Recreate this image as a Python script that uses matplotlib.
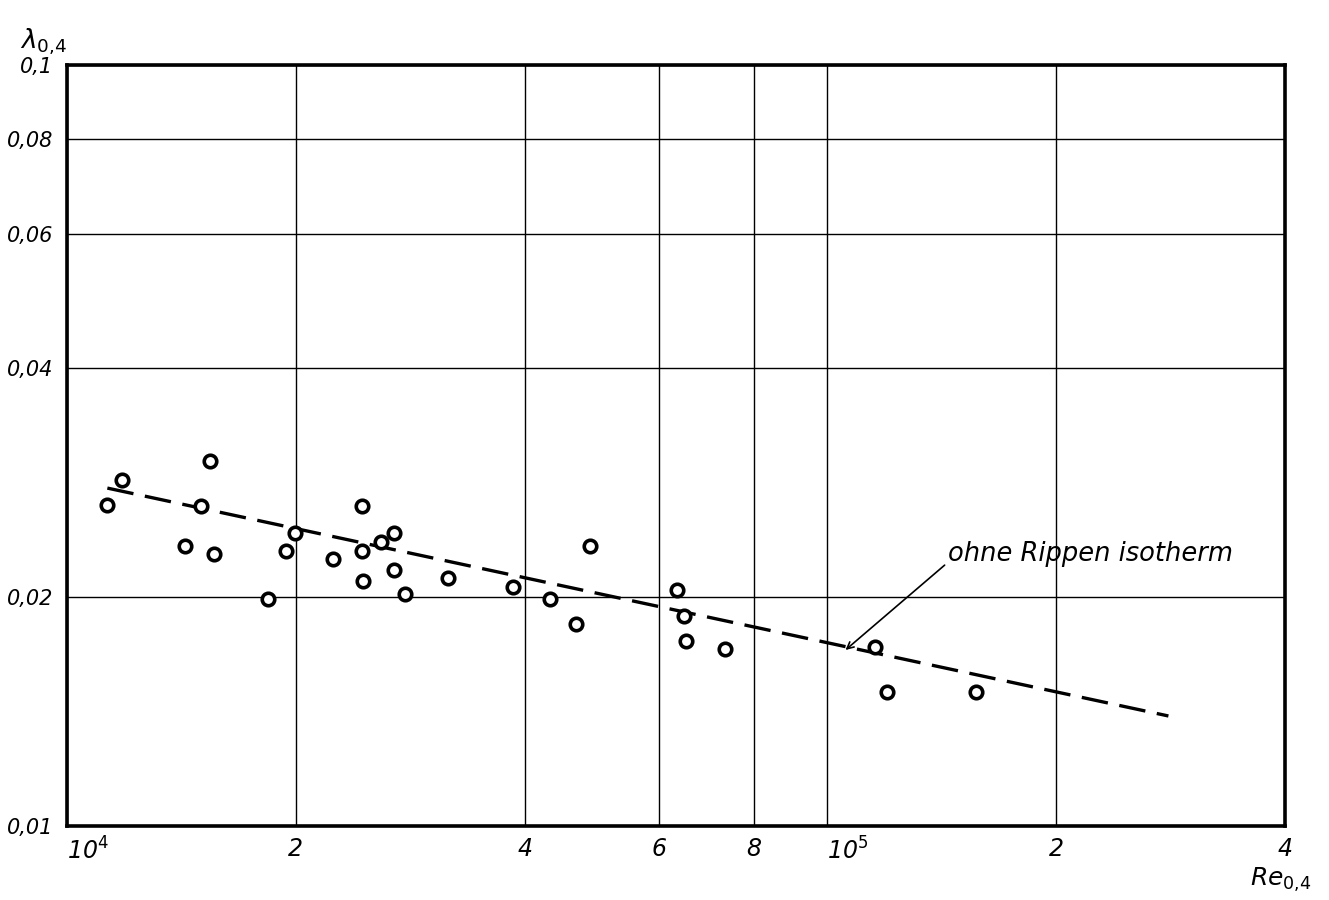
import matplotlib.pyplot as plt

# Messpunkte (Re_0,4 / lambda_0,4)
re_pts = [1.13e4, 1.18e4, 1.54e4, 1.50e4, 1.43e4, 1.56e4, 1.84e4, 1.94e4, 1.995e4,
          2.24e4, 2.44e4, 2.44e4, 2.45e4, 2.59e4, 2.69e4, 2.69e4, 2.78e4, 3.17e4,
          3.86e4, 4.32e4, 4.67e4, 4.87e4, 6.35e4, 6.48e4, 6.52e4, 7.34e4,
          1.155e5, 1.20e5, 1.57e5]
lam_pts = [0.0264, 0.0285, 0.0302, 0.0263, 0.0233, 0.0228, 0.0199, 0.0230, 0.0243,
           0.0224, 0.0263, 0.0230, 0.0210, 0.0236, 0.0243, 0.0217, 0.0202, 0.0212,
           0.0206, 0.0199, 0.0184, 0.0233, 0.0204, 0.0189, 0.0175, 0.0171,
           0.0172, 0.0150, 0.0150]

# Ausgleichsgerade "ohne Rippen isotherm"
re_line = [1.13e4, 2.81e5]
lam_line = [0.0278, 0.01395]

x_ticks = [1e4, 2e4, 4e4, 6e4, 8e4, 1e5, 2e5, 4e5]
x_labels = [r'10$^{\mathit{4}}$', '2', '4', '6', '8', r'10$^{\mathit{5}}$', '2', '4']
y_ticks = [0.01, 0.02, 0.04, 0.06, 0.08, 0.1]
y_labels = ['0,01', '0,02', '0,04', '0,06', '0,08', '0,1']

fig = plt.figure(figsize=(13.29, 9), dpi=100)
ax = fig.add_axes([67/1329, 74/900, 1218/1329, 761/900])

ax.set_xscale('log')
ax.set_yscale('log')
ax.set_xlim(1e4, 4e5)
ax.set_ylim(0.01, 0.1)

ax.plot(re_line, lam_line, color='black', lw=2.4, ls=(0, (8, 3.5)), dash_capstyle='butt')
ax.plot(re_pts, lam_pts, ls='none', marker='o', ms=9, mfc='white', mec='black', mew=2.6)

ax.annotate('', xy=(1.05e5, 0.01694), xytext=(1.436e5, 0.02214),
            arrowprops=dict(arrowstyle='->', color='black', lw=1.2, mutation_scale=12))
ax.text(1.44e5, 0.0228, 'ohne Rippen isotherm', fontsize=18.5, style='italic',
        ha='left', va='center')

ax.minorticks_off()
ax.set_xticks(x_ticks)
ax.set_xticklabels(x_labels, fontsize=17, style='italic')
ax.set_yticks(y_ticks)
ax.set_yticklabels(y_labels, fontsize=15, style='italic')
ax.tick_params(axis='both', length=0)
ax.tick_params(axis='x', pad=8)
ax.tick_params(axis='y', pad=10)
for lbl in ax.get_xticklabels():
    if lbl.get_text().startswith('10'):
        lbl.set_horizontalalignment('left')
ax.grid(True, which='major', color='black', lw=1.0)

for s in ax.spines.values():
    s.set_linewidth(2.6)

fig.text(20/1329, 1 - 42/900, r'$\lambda_{0{,}4}$', fontsize=19, va='center')
fig.text(1250/1329, 1 - 880/900, r'$Re_{0{,}4}$', fontsize=18, va='center')

fig.savefig('out.png', dpi=100, facecolor='white')
